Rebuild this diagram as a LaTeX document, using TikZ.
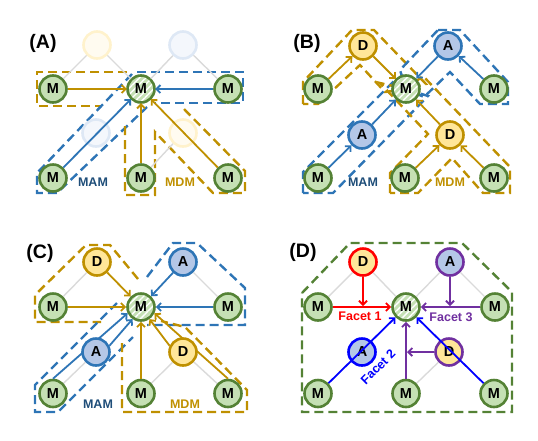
\documentclass[tikz,border=0pt]{standalone}
\usepackage{fontspec}
\setmainfont{Liberation Sans}
\usetikzlibrary{arrows.meta,patterns.meta}
\definecolor{mfill}{HTML}{C5E0B4}
\definecolor{mline}{HTML}{548235}
\definecolor{dfill}{HTML}{FFE699}
\definecolor{dline}{HTML}{BF9000}
\definecolor{afill}{HTML}{B4C7E7}
\definecolor{aline}{HTML}{2E75B6}
\definecolor{goldc}{HTML}{BF9000}
\definecolor{bluec}{HTML}{2E75B6}
\definecolor{mamc}{HTML}{1F4E79}
\definecolor{lgray}{HTML}{DADADA}
\definecolor{fyfill}{HTML}{FFFBF0}
\definecolor{fyline}{HTML}{FFF2CC}
\definecolor{fbfill}{HTML}{F4F7FC}
\definecolor{fbline}{HTML}{DEE8F5}
\definecolor{redc}{HTML}{FF0000}
\definecolor{pblue}{HTML}{0000FF}
\definecolor{purp}{HTML}{7030A0}
\begin{document}
\begin{tikzpicture}[x=1pt,y=-1pt,
 nd/.style={circle,line width=2.6pt,minimum size=27pt,inner sep=0pt,font=\fontsize{14.5}{14.5}\selectfont\bfseries},
 mn/.style={nd,draw=mline,fill=mfill},
 cn/.style={nd,draw=mline,preaction={fill=mfill},pattern={Lines[angle=45,distance=4.5pt,line width=1.4pt]},pattern color=white},
 dn/.style={nd,draw=dline,fill=dfill},
 an/.style={nd,draw=aline,fill=afill},
 fy/.style={nd,draw=fyline,fill=fyfill},
 fb/.style={nd,draw=fbline,fill=fbfill},
 arr/.style={line width=1.8pt,-{Straight Barb[length=4pt,width=8pt]}},
 ya/.style={arr,draw=goldc}, ba/.style={arr,draw=bluec},
 dsh/.style={line width=2.4pt,dash pattern=on 9pt off 5pt},
 yd/.style={dsh,draw=goldc}, bd/.style={dsh,draw=bluec},
 glk/.style={draw=lgray,line width=1.4pt},
 lab/.style={font=\fontsize{19.5}{19.5}\selectfont\bfseries},
 tag/.style={font=\fontsize{12.5}{12.5}\selectfont\bfseries}]
\useasboundingbox (0,0) rectangle (538,440);

% ---------------- Panel A ----------------
\begin{scope}[shift={(141,89)}]
\draw[yd] (-14,-17) -- (-104,-17) -- (-104,17) -- (-39,17);
\draw[bd] (-4,-17) -- (102,-17) -- (102,14) -- (14,14);
\draw[bd] (-9,-15) -- (-104,84) -- (-104,104) -- (-84,104) -- (6,18);
\draw[yd] (-16,37) -- (-16,106) -- (14,106) -- (14,43) -- (72,104) -- (104,104) -- (104,82) -- (41,18);
\node[fy] (aTL) at (-44,-44) {};
\node[fb] (aTR) at (42,-44) {};
\node[fb] (aLL) at (-45,44) {};
\node[fy] (aLR) at (42,44) {};
\node[mn] (aML) at (-88,0) {M};
\node[cn] (aC) at (0,0) {M};
\node[mn] (aMR) at (87,0) {M};
\node[mn] (aBL) at (-88,89) {M};
\node[mn] (aBM) at (0,89) {M};
\node[mn] (aBR) at (87,89) {M};
\draw[glk] (aTL) -- (aML) (aTL) -- (aC) (aTR) -- (aC) (aTR) -- (aMR) (aLR) -- (aBM);
\draw[ya] (aML) -- (aC);
\draw[ba] (aMR) -- (aC);
\draw[ba] (aBL) -- (aC);
\draw[ya] (aBM) -- (aC);
\draw[ya] (aBR) -- (aC);
\node[tag,text=mamc] (aMAM) at (-48,93) {MAM};
\node[tag,text=goldc] (aMDM) at (39,93) {MDM};
\end{scope}
\node[lab] (labA) at (43,43) {(A)};

% ---------------- Panel B ----------------
\begin{scope}[shift={(406,89)}]
\draw[yd] (-103,15) -- (-103,-7) -- (-54,-59) -- (-32,-59) -- (20,-5) -- (0,0) -- (-21,3) -- (-46,-24) -- (-88,15) -- cycle;
\draw[bd] (32,-59) -- (54,-59) -- (102,-7) -- (102,15) -- (74,15) -- (44,-17) -- (18,8) -- (0,0) -- (-6,-19) -- cycle;
\draw[bd] (-103,104) -- (-103,83) -- (-10,-10) -- (0,0) -- (22,7) -- (-73,104) -- cycle;
\draw[yd] (-16,104) -- (-16,84) -- (22,45) -- (-26,-6) -- (0,0) -- (17,-13) -- (104,78) -- (104,104) -- (77,104) -- (46,69) -- (12,104) -- cycle;
\node[mn] (bML) at (-88,0) {M};
\node[cn] (bC) at (0,0) {M};
\node[mn] (bMR) at (88,0) {M};
\node[dn] (bD) at (-43,-43) {D};
\node[an] (bA) at (42,-43) {A};
\node[an] (bA2) at (-44,46) {A};
\node[dn] (bD2) at (44,46) {D};
\node[mn] (bBL) at (-88,89) {M};
\node[mn] (bBM) at (-1,89) {M};
\node[mn] (bBR) at (88,89) {M};
\draw[ya] (bML) -- (bD);
\draw[ya] (bD) -- (bC);
\draw[ba] (bMR) -- (bA);
\draw[ba] (bA) -- (bC);
\draw[ba] (bBL) -- (bA2);
\draw[ba] (bA2) -- (bC);
\draw[ya] (bBM) -- (bD2);
\draw[ya] (bBR) -- (bD2);
\draw[ya] (bD2) -- (bC);
\node[tag,text=mamc] (bMAM) at (-43,93) {MAM};
\node[tag,text=goldc] (bMDM) at (44,93) {MDM};
\end{scope}
\node[lab] (labB) at (307,43) {(B)};

% ---------------- Panel C ----------------
\begin{scope}[shift={(141,307)}]
\draw[yd] (-3,-28) -- (-31,-62) -- (-55,-62) -- (-106,-12) -- (-106,15) -- (-40,15);
\draw[bd] (6,-30) -- (32,-64) -- (56,-64) -- (104,-19) -- (104,18) -- (6,18);
\draw[bd] (-24,-4) -- (-106,78) -- (-106,105) -- (-83,105) -- (-8,30);
\draw[yd] (-19,36) -- (-19,105) -- (106,105) -- (106,83) -- (44,20) -- (20,14);
\node[mn] (cML) at (-88,0) {M};
\node[cn] (cC) at (0,0) {M};
\node[mn] (cMR) at (87,0) {M};
\node[dn] (cD) at (-44,-45) {D};
\node[an] (cA) at (42,-45) {A};
\node[mn] (cBL) at (-88,86.5) {M};
\node[mn] (cBM) at (0,86.5) {M};
\node[mn] (cBR) at (87,86.5) {M};
\draw[ba] (cBL.90) -- (cC.205);
\draw[ya] (cBR.90) -- (cC.335);
\node[an] (cA2) at (-45,45) {A};
\node[dn] (cD2) at (42,45) {D};
\draw[glk] (cD) -- (cML) (cA) -- (cMR) (cA2) -- (cBL) (cD2) -- (cBM) (cD2) -- (cBR);
\draw[ba] (cA2.25) -- (cC.235);
\draw[ya] (cD2.155) -- (cC.305);
\draw[ya] (cD) -- (cC);
\draw[ya] (cML) -- (cC);
\draw[ba] (cA) -- (cC);
\draw[ba] (cMR) -- (cC);
\draw[ya] (cBM) -- (cC);
\node[tag,text=mamc] (cMAM) at (-43,97) {MAM};
\node[tag,text=goldc] (cMDM) at (44,97) {MDM};
\end{scope}
\node[lab] (labC) at (40,253) {(C)};

% ---------------- Panel D ----------------
\begin{scope}[shift={(406,307)}]
\draw[dsh,draw=mline] (-104,-14) -- (-56,-64) -- (56,-64) -- (106,-15) -- (106,105) -- (-104,105) -- cycle;
\node[mn] (dML) at (-88,0) {M};
\node[cn] (dC) at (0,0) {M};
\node[mn] (dMR) at (89,0) {M};
\node[dn,draw=redc] (dD) at (-43,-45) {D};
\node[an,draw=purp] (dA) at (44,-45) {A};
\node[an,draw=pblue] (dA2) at (-44,45) {A};
\node[dn,draw=purp] (dD2) at (43,45) {D};
\node[mn] (dBL) at (-88,86.5) {M};
\node[mn] (dBM) at (0,86.5) {M};
\node[mn] (dBR) at (88,86.5) {M};
\draw[glk] (dD) -- (dML) (dD) -- (dC) (dA) -- (dC) (dA) -- (dMR) (dD2) -- (dBM);
\draw[arr,draw=redc] (dML) -- (dC);
\draw[arr,draw=redc,shorten >=1pt] (dD) -- (dD |- dML);
\draw[arr,draw=purp] (dMR) -- (dC);
\draw[arr,draw=purp,shorten >=1pt] (dA) -- (dA |- dMR);
\draw[arr,draw=purp] (dBM) -- (dC);
\draw[arr,draw=purp,shorten >=1pt] (dD2) -- (dC |- dD2);
\draw[arr,draw=pblue] (dBL) -- (dC);
\draw[arr,draw=pblue] (dBR) -- (dC);
\node[tag,text=redc] (f1) at (-46,9) {Facet 1};
\node[tag,text=purp] (f3) at (45,10) {Facet 3};
\node[tag,text=pblue,rotate=45] (f2) at (-28,60) {Facet 2};
\end{scope}
\node[lab] (labD) at (303,252) {(D)};
\end{tikzpicture}
\end{document}
